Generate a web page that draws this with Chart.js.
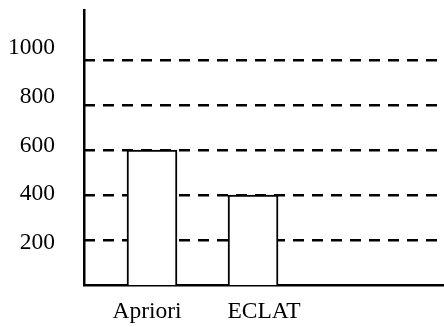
<!DOCTYPE html>
<html>
<head>
<meta charset="utf-8">
<script src="https://cdn.jsdelivr.net/npm/chart.js@4/dist/chart.umd.min.js"></script>
<style>
  html, body { margin: 0; padding: 0; background: #fff; overflow: hidden; }
  #chart { display: block; }
</style>
</head>
<body>
<canvas id="chart" width="444" height="327"></canvas>
<script>
// bar chart: Apriori vs ECLAT
const categories = ['Apriori', 'ECLAT'];
const values = [600, 400];
const tickValues = [200, 400, 600, 800, 1000];

const FONT = { family: "'Liberation Serif', 'Times New Roman', serif", size: 23.5 };

// pin an axis to a fixed size and drop the label overhang padding
const fixSize = (w, h) => s => {
  if (w !== null) s.width = w;
  if (h !== null) s.height = h;
  s.paddingTop = 0; s.paddingBottom = 0; s.paddingLeft = 0; s.paddingRight = 0;
};
const categoryTicks = s => { s.ticks = categories.map((c, i) => ({ value: i + 1 })); };
const valueTicks = s => { s.ticks = tickValues.map(v => ({ value: v })); };

const cfg = {
  type: 'bar',
  data: {
    datasets: [{
      data: values.map((v, i) => ({ x: i + 1, y: v })),
      backgroundColor: '#ffffff',
      borderColor: '#000000',
      borderWidth: 2,
      barThickness: 50
    }]
  },
  options: {
    responsive: false,
    animation: false,
    layout: { padding: { top: 10, right: 0, left: 0, bottom: 0 } },
    plugins: { legend: { display: false }, tooltip: { enabled: false } },
    scales: {
      // bar positions
      x: {
        type: 'linear',
        position: 'bottom',
        offset: false,
        min: 0.327,
        max: 3.89,
        grid: { display: false, drawTicks: false, offset: false },
        border: { display: false },
        afterBuildTicks: categoryTicks,
        afterFit: fixSize(null, 0),
        ticks: { display: false }
      },
      // category names, a little off-centre under the bars in the original
      x2: {
        type: 'linear',
        position: 'bottom',
        offset: false,
        min: 0.4615,
        max: 3.538,
        grid: { display: false, drawTicks: false, offset: false },
        border: { display: true, color: '#000', width: 2.5 },
        afterBuildTicks: categoryTicks,
        afterFit: fixSize(null, 42),
        ticks: {
          color: '#000', font: FONT, padding: 12.5, maxRotation: 0, autoSkip: false,
          callback: v => categories[v - 1] || ''
        }
      },
      // dashed grid lines (value scale)
      y: {
        position: 'left',
        min: 0,
        max: 1222,
        afterBuildTicks: valueTicks,
        afterFit: fixSize(0, null),
        grid: { color: '#000', lineWidth: 2.5, drawTicks: false },
        border: { display: false, dash: [11, 8] },
        ticks: { display: false }
      },
      // tick labels, which sit slightly off the grid lines in the original
      y2: {
        position: 'left',
        min: 27.7,
        max: 1156,
        afterBuildTicks: valueTicks,
        afterFit: fixSize(84, null),
        grid: { display: false, drawTicks: false },
        border: { display: true, color: '#000', width: 2.5 },
        ticks: { color: '#000', font: FONT, padding: 29, callback: v => String(v) }
      }
    }
  }
};

new Chart(document.getElementById('chart'), cfg);
</script>
</body>
</html>
